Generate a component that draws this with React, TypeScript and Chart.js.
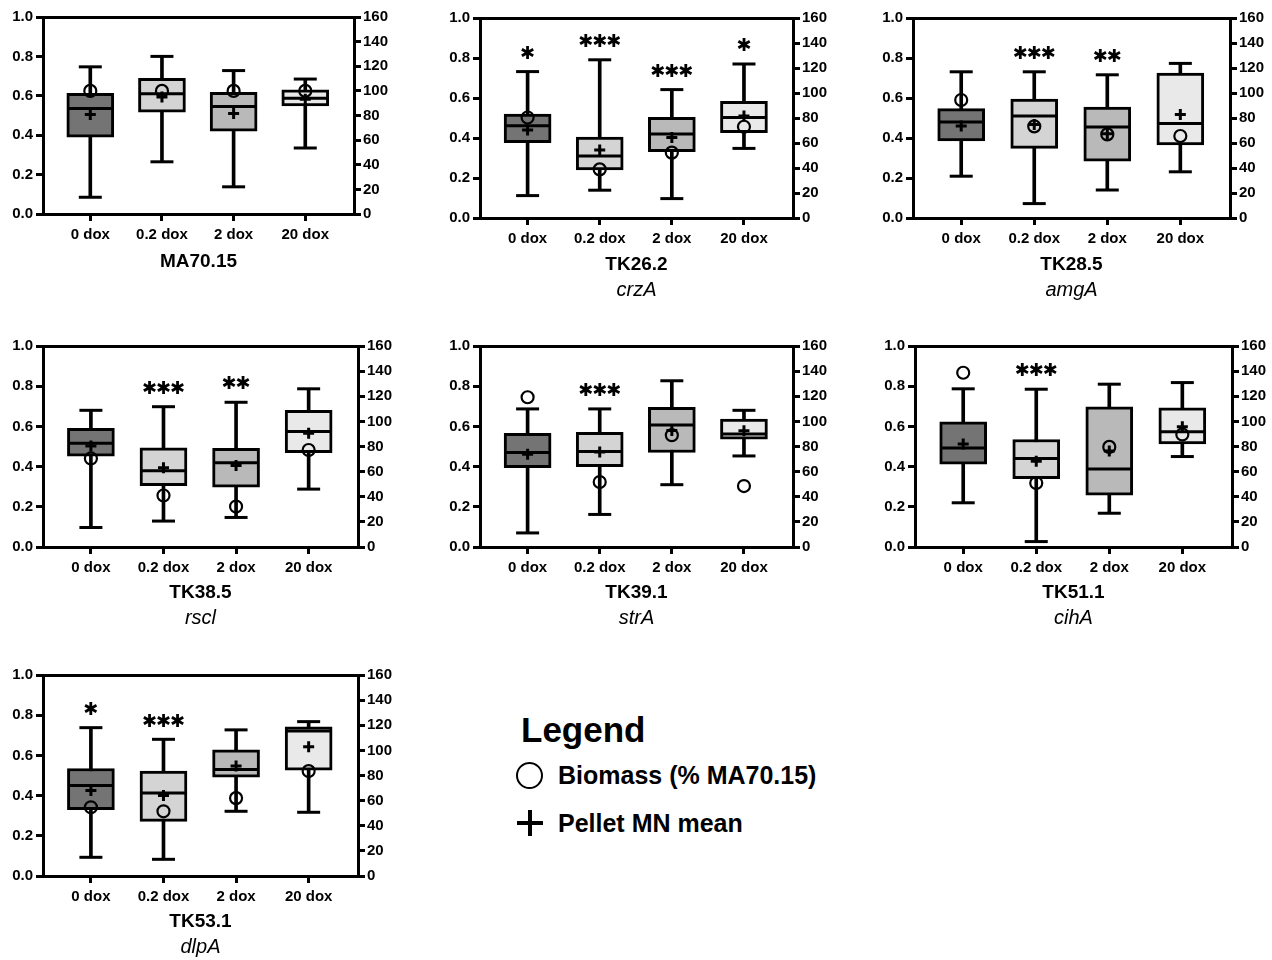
import React, { useEffect, useRef } from 'react';
import { Chart, registerables } from 'chart.js';

Chart.register(...registerables);

// ---------------- data ----------------
const categories = ['0 dox', '0.2 dox', '2 dox', '20 dox'];
const strainNames = ['MA70.15', 'TK26.2', 'TK28.5', 'TK38.5', 'TK39.1', 'TK51.1', 'TK53.1'];
const geneNames = ['', 'crzA', 'amgA', 'rscl', 'strA', 'cihA', 'dlpA'];
const leftTicks = [0, 0.2, 0.4, 0.6, 0.8, 1.0];
const rightTicks = [0, 20, 40, 60, 80, 100, 120, 140, 160];

// one row per strain, one column per dox level (left axis, 0-1)
const whiskerMax = [
  [0.747, 0.8, 0.728, 0.685],
  [0.732, 0.791, 0.642, 0.77],
  [0.731, 0.731, 0.716, 0.773],
  [0.68, 0.698, 0.72, 0.787],
  [0.687, 0.687, 0.827, 0.68],
  [0.787, 0.785, 0.81, 0.818],
  [0.738, 0.68, 0.727, 0.768],
];
const quartile3 = [
  [0.612, 0.689, 0.617, 0.63],
  [0.519, 0.405, 0.503, 0.583],
  [0.547, 0.594, 0.555, 0.724],
  [0.591, 0.494, 0.491, 0.68],
  [0.565, 0.57, 0.695, 0.637],
  [0.623, 0.535, 0.697, 0.693],
  [0.535, 0.522, 0.628, 0.742],
];
const medians = [
  [0.536, 0.611, 0.546, 0.588],
  [0.461, 0.31, 0.42, 0.503],
  [0.48, 0.51, 0.455, 0.473],
  [0.516, 0.379, 0.419, 0.575],
  [0.47, 0.475, 0.607, 0.562],
  [0.492, 0.44, 0.388, 0.573],
  [0.45, 0.413, 0.53, 0.722],
];
const quartile1 = [
  [0.39, 0.517, 0.42, 0.548],
  [0.377, 0.24, 0.332, 0.427],
  [0.385, 0.348, 0.284, 0.365],
  [0.452, 0.305, 0.298, 0.469],
  [0.395, 0.4, 0.47, 0.537],
  [0.412, 0.34, 0.258, 0.513],
  [0.33, 0.272, 0.492, 0.527],
];
const whiskerMin = [
  [0.085, 0.265, 0.138, 0.335],
  [0.112, 0.139, 0.097, 0.348],
  [0.209, 0.072, 0.14, 0.231],
  [0.097, 0.129, 0.147, 0.288],
  [0.07, 0.162, 0.31, 0.453],
  [0.22, 0.027, 0.168, 0.45],
  [0.093, 0.083, 0.322, 0.317],
];
const pelletMean = [
  [0.505, 0.594, 0.51, 0.583],
  [0.44, 0.34, 0.402, 0.51],
  [0.46, 0.468, 0.421, 0.518],
  [0.503, 0.394, 0.405, 0.566],
  [0.462, 0.473, 0.58, 0.578],
  [0.512, 0.427, 0.477, 0.598],
  [0.425, 0.4, 0.547, 0.643],
];
// biomass, % of MA70.15 (right axis, 0-160)
const biomass = [
  [100, 100, 100, 100],
  [80.4, 38.9, 52.3, 73],
  [94.4, 73.3, 66.9, 65.6],
  [70.5, 41, 32.2, 77.2],
  [119.2, 51.7, 89, 48.5],
  [138.7, 50.9, 79.7, 89.6],
  [54.7, 51.5, 62, 83.5],
];
const significance = [
  ['', '', '', ''],
  ['*', '***', '***', '*'],
  ['', '***', '**', ''],
  ['', '***', '**', ''],
  ['', '***', '', ''],
  ['', '***', '', ''],
  ['*', '***', '', ''],
];

// ---------------- layout / style ----------------
const FONT = '"Liberation Sans", Arial, Helvetica, sans-serif';
const boxColors = ['#747474', '#d4d4d4', '#b9b9b9', '#e9e9e9'];
const frames = [
  { L: 43, R: 354, T: 18, B: 214 },
  { L: 480, R: 793, T: 19, B: 218 },
  { L: 913, R: 1230, T: 19, B: 218 },
  { L: 43, R: 358, T: 347, B: 547 },
  { L: 480, R: 793, T: 347, B: 547 },
  { L: 915, R: 1232, T: 347, B: 547 },
  { L: 43, R: 358, T: 676, B: 876 },
];
const titleY = [261, 264, 264, 592, 592, 592, 921];
const YW = 45;
const Y1W = 52;
const XH = 36;
const PADT = 12;
const TOP_EXTRA = 14; // space Chart.js reserves above the plot area
const X_MIN = -0.66;
const X_MAX = 3.68;

function Panel({ idx }: { idx: number }) {
  const ref = useRef<HTMLCanvasElement>(null);
  const f = frames[idx];
  const width = f.R - f.L + YW + Y1W;
  const height = f.B - f.T + PADT + TOP_EXTRA + XH;

  useEffect(() => {
    const canvas = ref.current;
    if (!canvas) return;
    const idxs = categories.map((_, i) => i);
    const tickFont = { family: FONT, size: 15, weight: 'bold' as const };

    const starPlugin = {
      id: 'stars' + idx,
      afterDatasetsDraw(chart: any) {
        const { ctx, scales } = chart;
        const xs = scales.x;
        const ys = scales.y;
        ctx.save();
        ctx.fillStyle = '#000';
        ctx.font = `18px "DejaVu Sans", ${FONT}`;
        ctx.textAlign = 'center';
        ctx.textBaseline = 'middle';
        significance[idx].forEach((s, i) => {
          const n = s.length;
          for (let k = 0; k < n; k++) {
            const px = xs.getPixelForValue(i) + (k - (n - 1) / 2) * 14;
            const py = ys.getPixelForValue(whiskerMax[idx][i] + 0.087);
            ctx.fillText('\u2731', px, py);
          }
        });
        ctx.restore();
      },
    };

    const chart = new Chart(canvas, {
      type: 'bar',
      data: {
        datasets: [
          {
            type: 'bar',
            label: 'whisker',
            data: idxs.map((i) => ({ x: i, y: [whiskerMin[idx][i], whiskerMax[idx][i]] })) as any,
            backgroundColor: '#000',
            barThickness: 3,
            grouped: false,
            order: 6,
          } as any,
          {
            type: 'bar',
            label: 'box',
            data: idxs.map((i) => ({ x: i, y: [quartile1[idx][i], quartile3[idx][i]] })) as any,
            backgroundColor: boxColors,
            borderColor: '#000',
            borderWidth: 3,
            borderSkipped: false,
            barThickness: 47,
            grouped: false,
            order: 5,
          } as any,
          {
            type: 'scatter',
            label: 'median',
            data: idxs.map((i) => ({ x: i, y: medians[idx][i] })),
            pointStyle: 'line',
            pointRadius: 22,
            borderColor: '#000',
            pointBorderColor: '#000',
            pointBorderWidth: 3,
            order: 4,
          } as any,
          {
            type: 'scatter',
            label: 'caps',
            data: [
              ...idxs.map((i) => ({ x: i, y: whiskerMax[idx][i] })),
              ...idxs.map((i) => ({ x: i, y: whiskerMin[idx][i] })),
            ],
            pointStyle: 'line',
            pointRadius: 11.5,
            borderColor: '#000',
            pointBorderColor: '#000',
            pointBorderWidth: 3,
            order: 4,
          } as any,
          {
            type: 'scatter',
            label: 'Pellet MN mean',
            data: idxs.map((i) => ({ x: i, y: pelletMean[idx][i] })),
            pointStyle: 'cross',
            pointRadius: 5.5,
            borderColor: '#000',
            pointBorderColor: '#000',
            pointBorderWidth: 3,
            order: 2,
          } as any,
          {
            type: 'scatter',
            label: 'Biomass (% MA70.15)',
            yAxisID: 'y1',
            data: idxs.map((i) => ({ x: i, y: biomass[idx][i] })),
            pointStyle: 'circle',
            pointRadius: 6,
            borderColor: '#000',
            pointBorderColor: '#000',
            backgroundColor: 'rgba(0,0,0,0)',
            pointBackgroundColor: 'rgba(0,0,0,0)',
            pointBorderWidth: 2.2,
            order: 1,
          } as any,
        ],
      },
      options: {
        responsive: false,
        animation: false,
        devicePixelRatio: 1,
        layout: { padding: { top: PADT, left: 0, right: 0, bottom: 0 } },
        plugins: { legend: { display: false }, tooltip: { enabled: false }, title: { display: false } },
        scales: {
          x: {
            type: 'linear',
            position: 'bottom',
            min: X_MIN,
            max: X_MAX,
            offset: false,
            afterBuildTicks: (s: any) => {
              s.ticks = idxs.map((v) => ({ value: v }));
            },
            afterFit: (s: any) => {
              s.height = XH;
            },
            ticks: {
              callback: (v: any) => categories[Math.round(v)] ?? '',
              font: tickFont,
              color: '#000',
              padding: 5,
              autoSkip: false,
              maxRotation: 0,
              minRotation: 0,
            },
            grid: { offset: false, drawOnChartArea: false, drawTicks: true, tickLength: 7, color: '#000', lineWidth: 3 },
            border: { display: true, color: '#000', width: 3 },
          },
          x2: {
            type: 'linear',
            position: 'top',
            min: X_MIN,
            max: X_MAX,
            offset: false,
            afterFit: (s: any) => {
              s.height = 0;
            },
            ticks: { display: false },
            grid: { offset: false, drawOnChartArea: false, drawTicks: false, color: '#000', lineWidth: 3 },
            border: { display: true, color: '#000', width: 3 },
          },
          y: {
            type: 'linear',
            position: 'left',
            min: 0,
            max: 1,
            afterBuildTicks: (s: any) => {
              s.ticks = leftTicks.map((v) => ({ value: v }));
            },
            afterFit: (s: any) => {
              s.width = YW;
            },
            ticks: {
              callback: (v: any) => Number(v).toFixed(1),
              font: tickFont,
              color: '#000',
              padding: 3,
            },
            grid: { drawOnChartArea: false, drawTicks: true, tickLength: 7, color: '#000', lineWidth: 3 },
            border: { display: true, color: '#000', width: 3 },
          },
          y1: {
            type: 'linear',
            position: 'right',
            min: 0,
            max: 160,
            afterBuildTicks: (s: any) => {
              s.ticks = rightTicks.map((v) => ({ value: v }));
            },
            afterFit: (s: any) => {
              s.width = Y1W;
            },
            ticks: {
              callback: (v: any) => String(v),
              font: tickFont,
              color: '#000',
              padding: 2,
            },
            grid: { drawOnChartArea: false, drawTicks: true, tickLength: 7, color: '#000', lineWidth: 3 },
            border: { display: true, color: '#000', width: 3 },
          },
        },
      } as any,
      plugins: [starPlugin],
    });
    return () => chart.destroy();
  }, [idx]);

  const cx = (f.L + f.R) / 2;
  return (
    <>
      <canvas
        ref={ref}
        width={width}
        height={height}
        style={{ position: 'absolute', left: f.L - YW, top: f.T - PADT - TOP_EXTRA, width, height }}
      />
      <div
        style={{
          position: 'absolute',
          left: cx - 100,
          width: 200,
          top: titleY[idx] - 12,
          height: 24,
          lineHeight: '24px',
          textAlign: 'center',
          fontFamily: FONT,
          fontWeight: 'bold',
          fontSize: 19,
          color: '#000',
        }}
      >
        {strainNames[idx]}
      </div>
      {geneNames[idx] ? (
        <div
          style={{
            position: 'absolute',
            left: cx - 100,
            width: 200,
            top: titleY[idx] + 25 - 13,
            height: 26,
            lineHeight: '26px',
            textAlign: 'center',
            fontFamily: FONT,
            fontStyle: 'italic',
            fontSize: 20,
            color: '#000',
          }}
        >
          {geneNames[idx]}
        </div>
      ) : null}
    </>
  );
}

function LegendBlock() {
  return (
    <>
      <div
        style={{
          position: 'absolute',
          left: 521,
          top: 710,
          height: 40,
          lineHeight: '40px',
          fontFamily: FONT,
          fontWeight: 'bold',
          fontSize: 35,
          color: '#000',
          whiteSpace: 'nowrap',
        }}
      >
        Legend
      </div>
      <div
        style={{
          position: 'absolute',
          left: 516,
          top: 762,
          width: 27,
          height: 27,
          boxSizing: 'border-box',
          border: '2.5px solid #000',
          borderRadius: '50%',
        }}
      />
      <div
        style={{
          position: 'absolute',
          left: 558,
          top: 760,
          height: 30,
          lineHeight: '30px',
          fontFamily: FONT,
          fontWeight: 'bold',
          fontSize: 25,
          color: '#000',
          whiteSpace: 'nowrap',
        }}
      >
        Biomass (% MA70.15)
      </div>
      <div style={{ position: 'absolute', left: 517, top: 821, width: 26, height: 3.5, background: '#000' }} />
      <div style={{ position: 'absolute', left: 528.2, top: 810, width: 3.5, height: 26, background: '#000' }} />
      <div
        style={{
          position: 'absolute',
          left: 558,
          top: 808,
          height: 30,
          lineHeight: '30px',
          fontFamily: FONT,
          fontWeight: 'bold',
          fontSize: 25,
          color: '#000',
          whiteSpace: 'nowrap',
        }}
      >
        Pellet MN mean
      </div>
    </>
  );
}

export default function App() {
  return (
    <div
      style={{
        position: 'absolute',
        left: 0,
        top: 0,
        width: 1272,
        height: 960,
        background: '#fff',
        overflow: 'hidden',
      }}
    >
      {strainNames.map((_, i) => (
        <Panel key={i} idx={i} />
      ))}
      <LegendBlock />
    </div>
  );
}
